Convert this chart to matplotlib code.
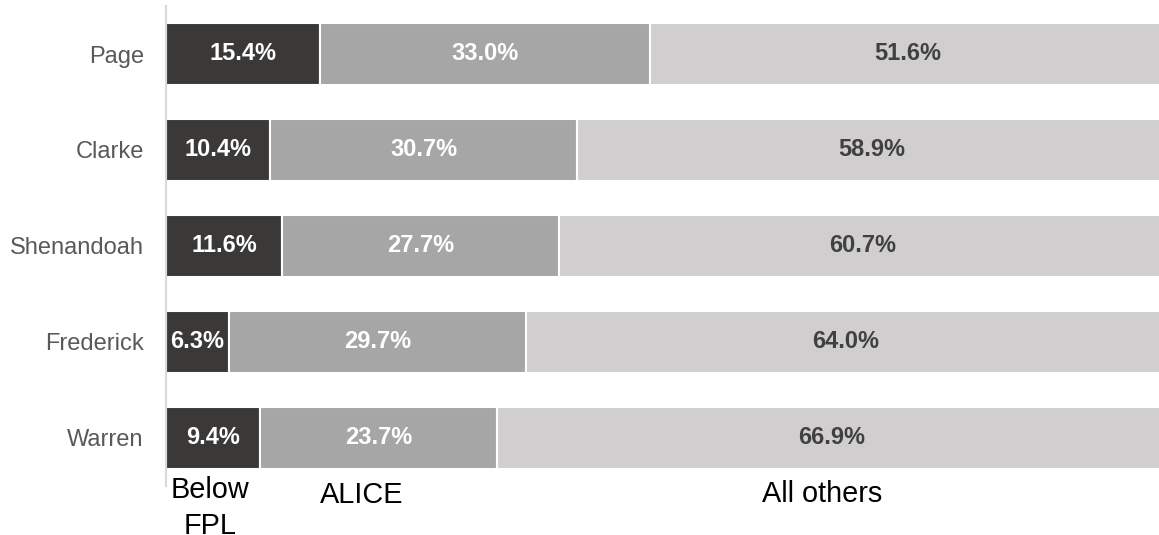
import matplotlib
matplotlib.use("Agg")
import matplotlib.pyplot as plt
import matplotlib.transforms as mtransforms
import numpy as np

plt.rcParams['font.family'] = ['Liberation Sans', 'DejaVu Sans']

counties = ["Page", "Clarke", "Shenandoah", "Frederick", "Warren"]
below_fpl = [15.4, 10.4, 11.6, 6.3, 9.4]
alice = [33.0, 30.7, 27.7, 29.7, 23.7]
all_others = [51.6, 58.9, 60.7, 64.0, 66.9]
series_names = ["Below\nFPL", "ALICE", "All others"]
series_label_x = [4.4, 19.6, 65.6]
series_label_top_px = [476, 481, 480]

colors = ["#3a3938", "#a6a6a6", "#d0cecf"]
text_colors = ["white", "white", "#404040"]

fig = plt.figure(figsize=(11.59, 5.35), dpi=100)
ax = fig.add_axes([166 / 1159, 49 / 535, 1000 / 1159, 480 / 535])

y = np.arange(len(counties))
left = np.zeros(len(counties))
for vals, c, tc in zip([below_fpl, alice, all_others], colors, text_colors):
    vals = np.array(vals)
    ax.barh(y, vals, left=left, height=0.645, color=c, edgecolor="white", linewidth=1.5)
    for yi, l, v in zip(y, left, vals):
        ax.text(l + v / 2, yi, f"{v:.1f}%", ha="center", va="center",
                color=tc, fontsize=17, fontweight="bold")
    left = left + vals

ax.set_xlim(0, 100)
ax.set_ylim(len(counties) - 0.5, -0.5)
ax.set_yticks(y)
ax.set_yticklabels(counties, fontsize=17, color="#595959")
ax.tick_params(axis="y", length=0, pad=16)
ax.set_xticks([])
for s in ["top", "right", "bottom"]:
    ax.spines[s].set_visible(False)
ax.spines["left"].set_color("#d9d9d9")
ax.spines["left"].set_linewidth(1.5)

trans = mtransforms.blended_transform_factory(ax.transData, fig.transFigure)
for name, x, top in zip(series_names, series_label_x, series_label_top_px):
    ax.text(x, 1 - top / 535, name, transform=trans, ha="center", va="top",
            fontsize=20.8, color="black", linespacing=1.38, clip_on=False)

fig.savefig("out.png", dpi=100)
